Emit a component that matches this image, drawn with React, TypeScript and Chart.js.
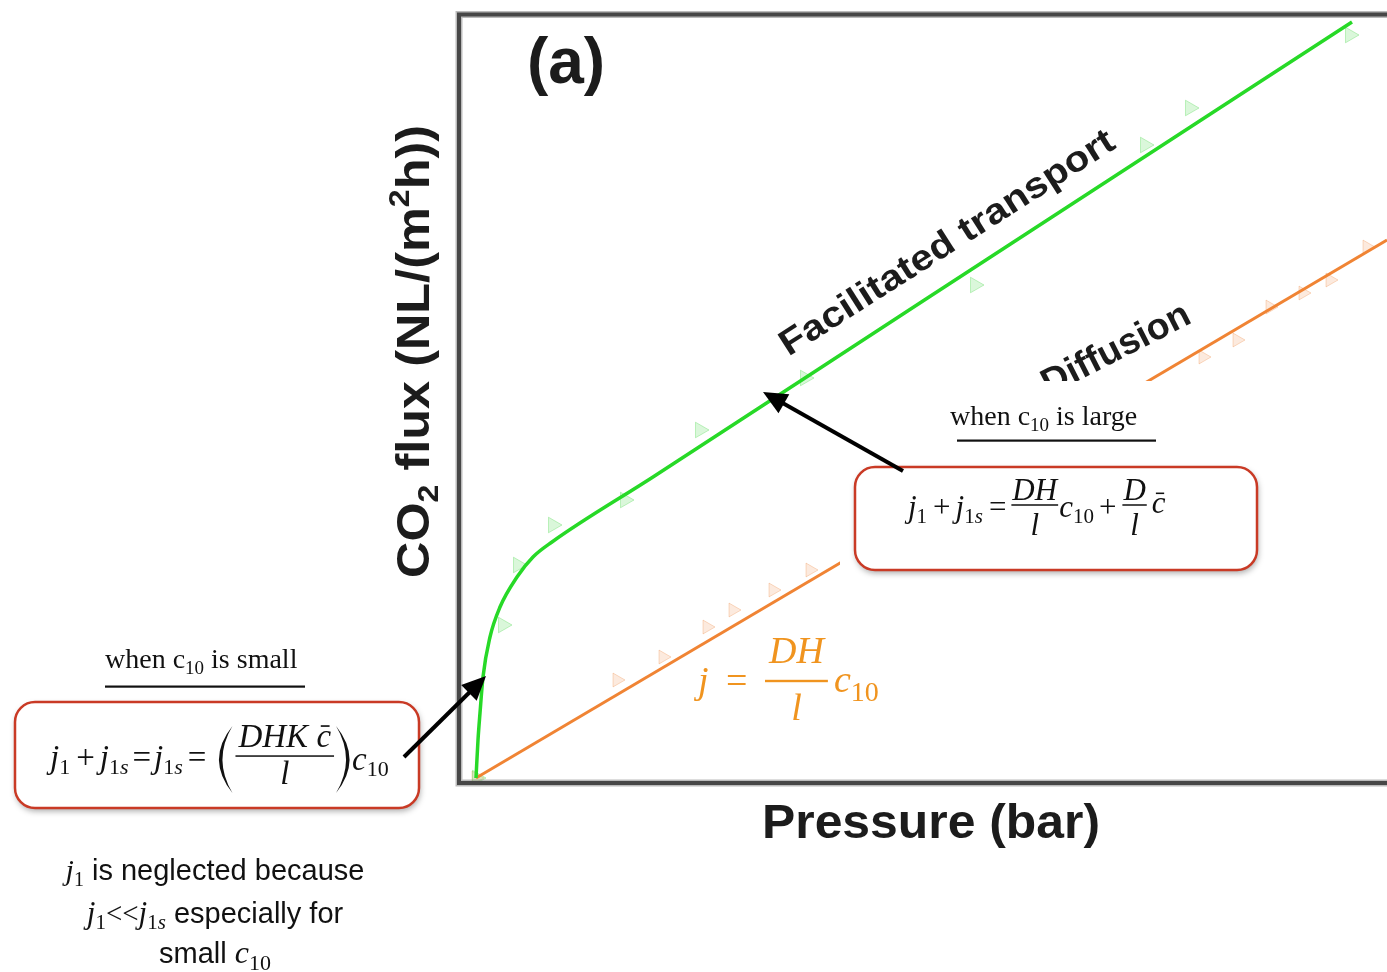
import React, { useEffect, useRef } from "react";
import { Chart, registerables } from "chart.js";

Chart.register(...registerables);

// ---- Data (pressure in bar, CO2 flux in NL/(m2 h)) ----
const facilitatedFitPressure = [0, 0.02, 0.04, 0.07, 0.14, 0.24, 0.41, 0.57, 0.76, 1.77, 4.5, 8.76];
const facilitatedFitFlux = [0, 0.38, 0.65, 1.01, 1.41, 1.71, 2.01, 2.21, 2.36, 3.01, 4.79, 7.56];

const facilitatedPressure = [0.01, 0.27, 0.42, 0.77, 1.49, 2.24, 3.29, 4.99, 6.69, 7.14, 8.74];
const facilitatedFlux = [0.0, 1.53, 2.13, 2.53, 2.78, 3.48, 4.0, 4.93, 6.33, 6.7, 7.43];

const diffusionFitPressure = [0, 9.11];
const diffusionFitFlux = [0, 5.38];

const diffusionPressure = [0.0, 1.41, 1.87, 2.31, 2.57, 2.97, 3.34, 7.27, 7.61, 7.94, 8.27, 8.54, 8.91];
const diffusionFlux = [0.0, 0.98, 1.21, 1.51, 1.68, 1.88, 2.08, 4.21, 4.38, 4.71, 4.85, 4.98, 5.31];

const pressureRange = [-0.17, 9.11];
const fluxRange = [-0.05, 7.635];

const xTitle = "Pressure (bar)";
const panelLabel = "(a)";
const facilitatedLabel = "Facilitated transport";
const diffusionLabel = "Diffusion";

// ---- helpers ----
const SERIF = '"Liberation Serif", "Times New Roman", serif';
const SANS = '"Liberation Sans", Arial, Helvetica, sans-serif';
const it = (n: number) => `italic ${n}px ${SERIF}`;
const rm = (n: number) => `${n}px ${SERIF}`;
const sans = (n: number) => `${n}px ${SANS}`;
const bold = (n: number) => `bold ${n}px ${SANS}`;

type Run = { s: string; f: string; dy?: number; dx?: number };

function widthOf(ctx: CanvasRenderingContext2D, runs: Run[]) {
  let w = 0;
  for (const r of runs) {
    ctx.font = r.f;
    w += ctx.measureText(r.s).width + (r.dx || 0);
  }
  return w;
}

function drawRuns(ctx: CanvasRenderingContext2D, x: number, y: number, runs: Run[]) {
  for (const r of runs) {
    ctx.font = r.f;
    x += r.dx || 0;
    ctx.fillText(r.s, x, y + (r.dy || 0));
    x += ctx.measureText(r.s).width;
  }
  return x;
}

function frac(
  ctx: CanvasRenderingContext2D,
  x: number,
  yBar: number,
  num: Run[],
  den: Run[],
  numBase: number,
  denBase: number,
  pad: number,
  lw: number
) {
  const wn = widthOf(ctx, num);
  const wd = widthOf(ctx, den);
  const w = Math.max(wn, wd) + 2 * pad;
  drawRuns(ctx, x + (w - wn) / 2, numBase, num);
  drawRuns(ctx, x + (w - wd) / 2, denBase, den);
  ctx.fillRect(x, yBar - lw / 2, w, lw);
  return x + w;
}

function cbar(ctx: CanvasRenderingContext2D, x: number, y: number, size: number) {
  ctx.font = it(size);
  ctx.fillText("c", x, y);
  const w = ctx.measureText("c").width;
  ctx.fillRect(x + w * 0.3, y - size * 0.66, w * 0.6, Math.max(1.2, size * 0.05));
  return x + w;
}

function arrow(ctx: CanvasRenderingContext2D, x1: number, y1: number, x2: number, y2: number) {
  const a = Math.atan2(y2 - y1, x2 - x1);
  const head = 24;
  const hw = 11;
  const bx = x2 - head * Math.cos(a);
  const by = y2 - head * Math.sin(a);
  ctx.save();
  ctx.strokeStyle = "#000";
  ctx.fillStyle = "#000";
  ctx.lineWidth = 4;
  ctx.beginPath();
  ctx.moveTo(x1, y1);
  ctx.lineTo(bx + 2 * Math.cos(a), by + 2 * Math.sin(a));
  ctx.stroke();
  ctx.beginPath();
  ctx.moveTo(x2, y2);
  ctx.lineTo(bx + hw * Math.sin(a), by - hw * Math.cos(a));
  ctx.lineTo(bx - hw * Math.sin(a), by + hw * Math.cos(a));
  ctx.closePath();
  ctx.fill();
  ctx.restore();
}

function roundBox(ctx: CanvasRenderingContext2D, x1: number, y1: number, x2: number, y2: number, r: number) {
  ctx.save();
  ctx.beginPath();
  ctx.roundRect(x1, y1, x2 - x1, y2 - y1, r);
  ctx.fillStyle = "#fff";
  ctx.shadowColor = "rgba(0,0,0,0.35)";
  ctx.shadowBlur = 6;
  ctx.shadowOffsetX = 1;
  ctx.shadowOffsetY = 3;
  ctx.fill();
  ctx.shadowColor = "transparent";
  ctx.strokeStyle = "#c93a25";
  ctx.lineWidth = 2.5;
  ctx.stroke();
  ctx.restore();
}

function rotatedFit(
  ctx: CanvasRenderingContext2D,
  text: string,
  cx: number,
  cy: number,
  deg: number,
  size: number,
  width: number
) {
  ctx.save();
  ctx.translate(cx, cy);
  ctx.rotate((-deg * Math.PI) / 180);
  ctx.font = bold(size);
  const w = ctx.measureText(text).width;
  ctx.scale(width / w, 1);
  ctx.textAlign = "center";
  ctx.fillStyle = "#1c1c1c";
  ctx.fillText(text, 0, 0);
  ctx.restore();
}

const annotationPlugin = {
  id: "annotations",
  afterDatasetsDraw(chart: any) {
    const ctx: CanvasRenderingContext2D = chart.ctx;
    const { left, top, right, bottom } = chart.chartArea;
    ctx.save();
    ctx.textBaseline = "alphabetic";
    ctx.textAlign = "left";

    // curve labels
    rotatedFit(ctx, facilitatedLabel, 953, 252, 32.5, 36, 390);
    rotatedFit(ctx, diffusionLabel, 1121, 359, 27, 37, 162);

    // white panel covering the middle-right region
    ctx.fillStyle = "#fff";
    ctx.fillRect(840, 381, 1387 - 840, 200);

    // frame
    ctx.lineCap = "butt";
    ctx.strokeStyle = "rgba(120,120,120,0.5)";
    ctx.lineWidth = 7;
    ctx.beginPath();
    ctx.moveTo(right + 5, top);
    ctx.lineTo(left, top);
    ctx.lineTo(left, bottom);
    ctx.lineTo(right + 5, bottom);
    ctx.stroke();
    ctx.strokeStyle = "#474747";
    ctx.lineWidth = 4;
    ctx.stroke();

    // panel label
    ctx.fillStyle = "#1c1c1c";
    ctx.font = bold(64);
    ctx.textAlign = "center";
    ctx.fillText(panelLabel, 566, 83);

    // x title
    ctx.save();
    ctx.font = bold(48);
    const xw = ctx.measureText(xTitle).width;
    ctx.translate(931, 838);
    ctx.scale(338 / xw, 1);
    ctx.fillText(xTitle, 0, 0);
    ctx.restore();
    ctx.textAlign = "left";

    // y title
    ctx.save();
    ctx.translate(429, 351.5);
    ctx.rotate(-Math.PI / 2);
    const yRuns: Run[] = [
      { s: "CO", f: bold(47) },
      { s: "2", f: bold(30), dy: 9 },
      { s: " flux (NL/(m", f: bold(47) },
      { s: "2", f: bold(30), dy: -20 },
      { s: "h))", f: bold(47) },
    ];
    const yw = widthOf(ctx, yRuns);
    ctx.scale(453 / yw, 1);
    drawRuns(ctx, -yw / 2, 0, yRuns);
    ctx.restore();

    // boxes
    roundBox(ctx, 855, 467, 1257, 570, 20);
    roundBox(ctx, 15, 702, 419, 808, 20);

    ctx.fillStyle = "#111";
    // "when c10 is large"
    drawRuns(ctx, 950, 425, [
      { s: "when c", f: rm(28) },
      { s: "10", f: rm(19), dy: 6 },
      { s: " is large", f: rm(28) },
    ]);
    ctx.fillRect(957, 439.5, 199, 2.2);
    // "when c10 is small"
    drawRuns(ctx, 105, 668, [
      { s: "when c", f: rm(28) },
      { s: "10", f: rm(19), dy: 6 },
      { s: " is small", f: rm(28) },
    ]);
    ctx.fillRect(105, 685.5, 200, 2.2);

    // right formula
    const F1 = 31,
      S1 = 21;
    let x = 908;
    const y = 517;
    x = drawRuns(ctx, x, y, [
      { s: "j", f: it(F1) },
      { s: "1", f: rm(S1), dy: 6 },
      { s: "+", f: rm(F1), dx: 6 },
      { s: "j", f: it(F1), dx: 5 },
      { s: "1", f: rm(S1), dy: 6 },
      { s: "s", f: it(S1), dy: 6 },
      { s: "=", f: rm(F1), dx: 6 },
    ]);
    x += 5;
    x = frac(ctx, x, 505, [{ s: "DH", f: it(F1) }], [{ s: "l", f: it(F1) }], 500, 535, 1, 1.5);
    x = drawRuns(ctx, x + 1, y, [
      { s: "c", f: it(F1) },
      { s: "10", f: rm(S1), dy: 6 },
      { s: "+", f: rm(F1), dx: 5 },
    ]);
    x += 6;
    x = frac(ctx, x, 505, [{ s: "D", f: it(F1) }], [{ s: "l", f: it(F1) }], 500, 535, 1, 1.5);
    cbar(ctx, x + 5, 513, F1);

    // left formula
    const F2 = 33,
      S2 = 22;
    x = 50;
    const y2 = 768;
    x = drawRuns(ctx, x, y2, [
      { s: "j", f: it(F2) },
      { s: "1", f: rm(S2), dy: 6 },
      { s: "+", f: rm(F2), dx: 6 },
      { s: "j", f: it(F2), dx: 5 },
      { s: "1", f: rm(S2), dy: 6 },
      { s: "s", f: it(S2), dy: 6 },
      { s: "=", f: rm(F2), dx: 4 },
      { s: "j", f: it(F2), dx: 3 },
      { s: "1", f: rm(S2), dy: 6 },
      { s: "s", f: it(S2), dy: 6 },
      { s: "=", f: rm(F2), dx: 5 },
    ]);
    // left paren
    const pTop = 726,
      pBot = 793,
      pMid = (pTop + pBot) / 2;
    let px = x + 26;
    ctx.beginPath();
    ctx.moveTo(px, pTop);
    ctx.quadraticCurveTo(px - 27, pMid, px, pBot);
    ctx.quadraticCurveTo(px - 20, pMid, px, pTop);
    ctx.fill();
    x = px + 3;
    // numerator DHK c-bar
    ctx.font = it(F2);
    const wDHK = ctx.measureText("DHK ").width;
    const wc = ctx.measureText("c").width;
    const wNum = wDHK + wc;
    const fw = wNum + 6;
    drawRuns(ctx, x + 3, 747, [{ s: "DHK ", f: it(F2) }]);
    cbar(ctx, x + 3 + wDHK, 747, F2);
    ctx.font = it(F2);
    const wl = ctx.measureText("l").width;
    ctx.fillText("l", x + (fw - wl) / 2, 784);
    ctx.fillRect(x, 755.3, fw, 1.5);
    x += fw + 2;
    // right paren
    px = x;
    ctx.beginPath();
    ctx.moveTo(px, pTop);
    ctx.quadraticCurveTo(px + 27, pMid, px, pBot);
    ctx.quadraticCurveTo(px + 20, pMid, px, pTop);
    ctx.fill();
    x = px + 16;
    drawRuns(ctx, x, 770, [
      { s: "c", f: it(F2) },
      { s: "10", f: rm(S2), dy: 6 },
    ]);

    // orange diffusion formula
    ctx.fillStyle = "#f0941f";
    drawRuns(ctx, 698, 693, [{ s: "j", f: it(38) }]);
    drawRuns(ctx, 726, 693, [{ s: "=", f: rm(38) }]);
    frac(ctx, 765, 681, [{ s: "DH", f: it(38) }], [{ s: "l", f: it(38) }], 663, 720, 4, 2.4);
    drawRuns(ctx, 834, 692, [
      { s: "c", f: it(38) },
      { s: "10", f: rm(28), dy: 9 },
    ]);

    // arrows
    arrow(ctx, 903, 471, 763, 392);
    arrow(ctx, 404, 757, 486, 676);

    // explanation text
    ctx.fillStyle = "#111";
    const lines: { runs: Run[]; y: number }[] = [
      {
        y: 880,
        runs: [
          { s: "j", f: it(30) },
          { s: "1", f: rm(20), dy: 6 },
          { s: " is neglected because", f: sans(29) },
        ],
      },
      {
        y: 923,
        runs: [
          { s: "j", f: it(31) },
          { s: "1", f: rm(21), dy: 6 },
          { s: "<<", f: rm(29) },
          { s: "j", f: it(31) },
          { s: "1", f: rm(21), dy: 6 },
          { s: "s", f: it(21), dy: 6 },
          { s: " especially for", f: sans(29) },
        ],
      },
      {
        y: 963,
        runs: [
          { s: "small ", f: sans(29) },
          { s: "c", f: it(32) },
          { s: "10", f: rm(22), dy: 7 },
        ],
      },
    ];
    for (const ln of lines) {
      const w = widthOf(ctx, ln.runs);
      drawRuns(ctx, 215 - w / 2, ln.y, ln.runs);
    }

    ctx.restore();
  },
};

function pts(xs: number[], ys: number[]) {
  return xs.map((x, i) => ({ x, y: ys[i] }));
}

export default function App() {
  const ref = useRef<HTMLCanvasElement>(null);
  useEffect(() => {
    if (!ref.current) return;
    const chart = new Chart(ref.current, {
      type: "scatter",
      data: {
        datasets: [
          {
            label: "Facilitated transport (fit)",
            data: pts(facilitatedFitPressure, facilitatedFitFlux),
            showLine: true,
            borderColor: "#27d927",
            borderWidth: 3.5,
            pointRadius: 0,
            cubicInterpolationMode: "monotone",
          },
          {
            label: "Diffusion (fit)",
            data: pts(diffusionFitPressure, diffusionFitFlux),
            showLine: true,
            borderColor: "#f08434",
            borderWidth: 3,
            pointRadius: 0,
          },
          {
            label: "Facilitated transport",
            data: pts(facilitatedPressure, facilitatedFlux),
            showLine: false,
            pointStyle: "triangle",
            rotation: 90,
            pointRadius: 9,
            backgroundColor: "rgba(70,215,70,0.2)",
            borderColor: "rgba(70,215,70,0.32)",
            borderWidth: 1,
          },
          {
            label: "Diffusion",
            data: pts(diffusionPressure, diffusionFlux),
            showLine: false,
            pointStyle: "triangle",
            rotation: 90,
            pointRadius: 8,
            backgroundColor: "rgba(240,140,70,0.18)",
            borderColor: "rgba(240,140,70,0.3)",
            borderWidth: 1,
          },
        ],
      },
      options: {
        responsive: false,
        animation: false,
        events: [],
        layout: { autoPadding: false, padding: { left: 459, top: 14.5, right: 0, bottom: 189 } },
        plugins: { legend: { display: false }, tooltip: { enabled: false } },
        scales: {
          x: { type: "linear", display: false, min: pressureRange[0], max: pressureRange[1] },
          y: { type: "linear", display: false, min: fluxRange[0], max: fluxRange[1] },
        },
      },
      plugins: [annotationPlugin],
    } as any);
    return () => chart.destroy();
  }, []);
  return (
    <div
      style={{
        position: "fixed",
        left: 0,
        top: 0,
        width: 1387,
        height: 972,
        background: "#fff",
        overflow: "hidden",
      }}
    >
      <canvas ref={ref} width={1387} height={972} style={{ width: 1387, height: 972, display: "block" }} />
    </div>
  );
}
